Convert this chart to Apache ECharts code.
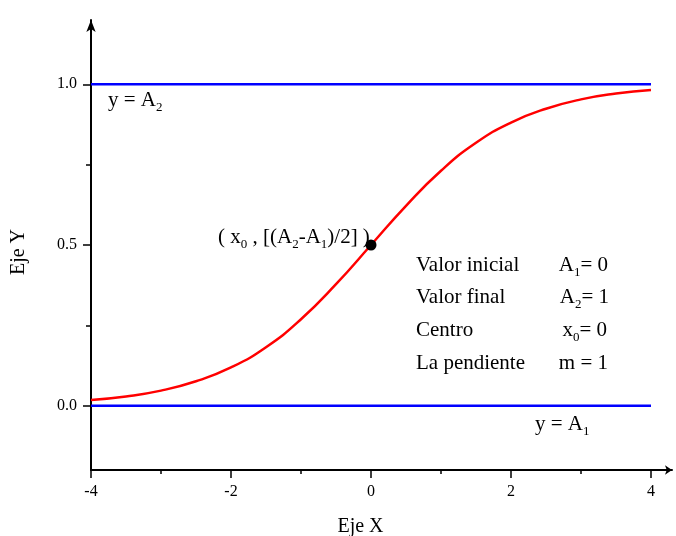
<!DOCTYPE html>
<html>
<head>
<meta charset="utf-8">
<script src="https://cdn.jsdelivr.net/npm/echarts@6/dist/echarts.min.js"></script>
<style>html,body{margin:0;padding:0;background:#fff}#c{width:676px;height:536px}</style>
</head>
<body>
<div id="c"></div>
<script>
// Data
const curveX = [-4, -3.5, -3, -2.5, -2, -1.5, -1, -0.5, 0, 0.5, 1, 1.5, 2, 2.5, 3, 3.5, 4];
const curveY = [0.018, 0.029, 0.047, 0.076, 0.119, 0.182, 0.269, 0.378, 0.5, 0.622, 0.731, 0.818, 0.881, 0.924, 0.953, 0.971, 0.982];
const lowerLineX = [-4, 4];
const lowerLineY = [0, 0];
const upperLineX = [-4, 4];
const upperLineY = [1, 1];
const centerPoint = [0, 0.5];
const xMajorTicks = [-4, -2, 0, 2, 4];
const xMinorTicks = [-3, -1, 1, 3];
const yMajorTicks = [0, 0.5, 1.0];
const yMinorTicks = [0.25, 0.75];

const FONT = '"Liberation Serif", "Times New Roman", serif';
const zip = (xs, ys) => xs.map((x, i) => [x, ys[i]]);

const chart = echarts.init(document.getElementById('c'));

const richBase = {
  n: { fontFamily: FONT, fontSize: 21, lineHeight: 28, verticalAlign: 'middle', fill: '#000', color: '#000' },
  s: { fontFamily: FONT, fontSize: 13, lineHeight: 13, verticalAlign: 'bottom', fill: '#000', color: '#000' }
};

function txt(text, x, y, align) {
  return {
    type: 'text', x: x, y: y, silent: true,
    style: { text: text, rich: richBase, font: '21px ' + FONT, fill: '#000',
             textAlign: align || 'left', textVerticalAlign: 'middle' }
  };
}

const option = {
  backgroundColor: '#fff',
  animation: false,
  grid: { left: 91, right: 4, top: 20, bottom: 66, containLabel: false, outerBoundsMode: 'none' },
  xAxis: [{
    type: 'value', min: -4, max: 4.3,
    splitLine: { show: false },
    axisLine: { show: true, onZero: false, symbol: ['none', 'arrow'], symbolSize: [7, 7],
                lineStyle: { color: '#000', width: 2 } },
    axisTick: { show: true, customValues: xMajorTicks, length: 8, lineStyle: { color: '#000', width: 1.5 } },
    axisLabel: { show: true, customValues: xMajorTicks, margin: 14, color: '#000', fontFamily: FONT, fontSize: 16,
                 formatter: v => String(v) },
    name: 'Eje X', nameLocation: 'middle', nameGap: 47,
    nameTextStyle: { color: '#000', fontFamily: FONT, fontSize: 20, padding: [0, 42, 0, 0] }
  }, {
    type: 'value', min: -4, max: 4.3, position: 'bottom',
    splitLine: { show: false },
    axisLine: { show: false, onZero: false },
    axisTick: { show: true, customValues: xMinorTicks, length: 4, lineStyle: { color: '#000', width: 1.5 } },
    axisLabel: { show: false }
  }],
  yAxis: [{
    type: 'value', min: -0.2, max: 1.2,
    splitLine: { show: false },
    axisLine: { show: true, onZero: false, symbol: ['none', 'arrow'], symbolSize: [7, 12],
                lineStyle: { color: '#000', width: 2 } },
    axisTick: { show: true, customValues: yMajorTicks, length: 8, lineStyle: { color: '#000', width: 1.5 } },
    axisLabel: { show: true, customValues: yMajorTicks, margin: 14, color: '#000', fontFamily: FONT, fontSize: 16,
                 formatter: v => Number(v).toFixed(1) },
    name: 'Eje Y', nameLocation: 'middle', nameGap: 62, nameRotate: 90,
    nameTextStyle: { color: '#000', fontFamily: FONT, fontSize: 20, padding: [0, 14, 0, 0] }
  }, {
    type: 'value', min: -0.2, max: 1.2, position: 'left',
    splitLine: { show: false },
    axisLine: { show: false, onZero: false },
    axisTick: { show: true, customValues: yMinorTicks, length: 5, lineStyle: { color: '#000', width: 1.5 } },
    axisLabel: { show: false }
  }],
  series: [
    { type: 'line', data: zip(upperLineX, upperLineY), showSymbol: false, symbol: 'none',
      lineStyle: { color: '#0000ff', width: 2.5 }, z: 3 },
    { type: 'line', data: zip(lowerLineX, lowerLineY), showSymbol: false, symbol: 'none',
      lineStyle: { color: '#0000ff', width: 2.5 }, z: 3 },
    { type: 'line', data: zip(curveX, curveY), smooth: true, showSymbol: false, symbol: 'none',
      lineStyle: { color: '#ff0000', width: 2.5 }, z: 4 },
    { type: 'scatter', data: [centerPoint], symbol: 'circle', symbolSize: 11,
      itemStyle: { color: '#000', opacity: 1 }, z: 5 }
  ],
  graphic: [
    txt('{n|y = A}{s|2}', 108, 100),
    txt('{n|y = A}{s|1}', 535, 424),
    txt('{n|( x}{s|0}{n| , [(A}{s|2}{n|-A}{s|1}{n|)/2] )}', 218, 237),
    txt('{n|Valor inicial}', 416, 265),
    txt('{n|Valor final}', 416, 297),
    txt('{n|Centro}', 416, 330),
    txt('{n|La pendiente}', 416, 363),
    txt('{n|A}{s|1}{n|= 0}', 608, 265, 'right'),
    txt('{n|A}{s|2}{n|= 1}', 609, 297, 'right'),
    txt('{n|x}{s|0}{n|= 0}', 607, 330, 'right'),
    txt('{n|m = 1}', 608, 363, 'right')
  ]
};
chart.setOption(option);
</script>
</body>
</html>
